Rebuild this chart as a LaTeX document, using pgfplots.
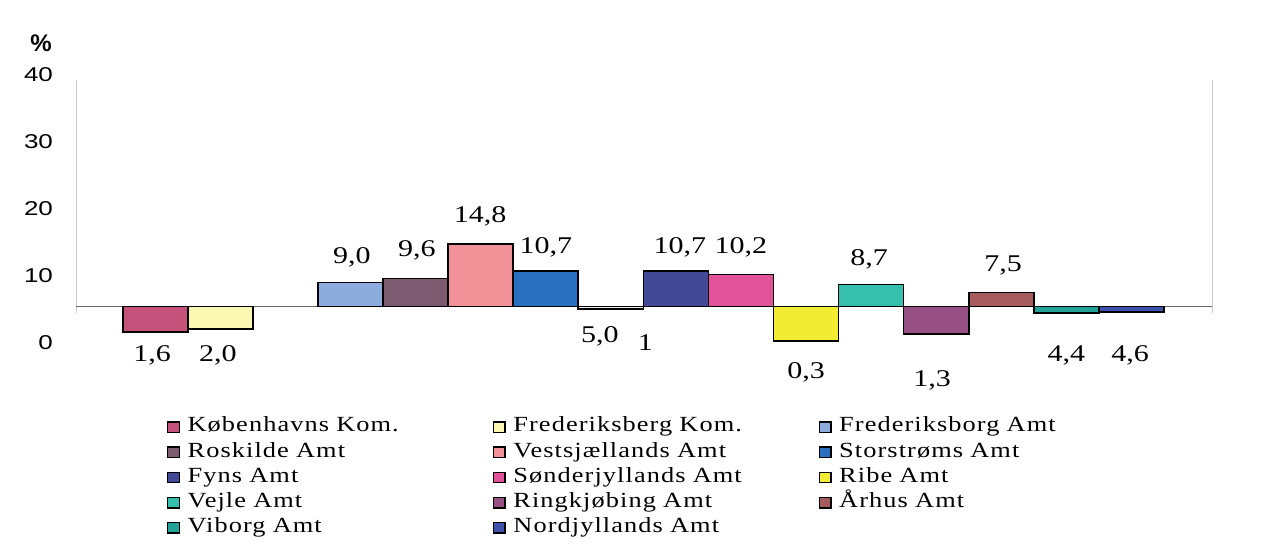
\documentclass[border=0pt]{standalone}
\usepackage{pgfplots}
\pgfplotsset{compat=1.18}
\usepackage{fontspec}
\setmainfont{Liberation Serif}[FakeStretch=1.25]
\newfontfamily\legfont{Liberation Serif}[FakeStretch=1.22, LetterSpace=5]
\newfontfamily\tickfont{Liberation Sans}[FakeStretch=1.3]
\newfontfamily\pctfont{Liberation Sans}
\definecolor{cKbhK}{RGB}{196,82,122}
\definecolor{cFrbK}{RGB}{250,247,178}
\definecolor{cFrbA}{RGB}{140,172,222}
\definecolor{cRos}{RGB}{124,90,112}
\definecolor{cVest}{RGB}{240,146,152}
\definecolor{cStor}{RGB}{42,112,192}
\definecolor{cBorn}{RGB}{238,238,238}
\definecolor{cFyn}{RGB}{66,74,152}
\definecolor{cSon}{RGB}{226,82,152}
\definecolor{cRibe}{RGB}{242,236,52}
\definecolor{cVejle}{RGB}{52,192,172}
\definecolor{cRing}{RGB}{150,80,132}
\definecolor{cAar}{RGB}{166,92,92}
\definecolor{cVib}{RGB}{34,162,152}
\definecolor{cNord}{RGB}{62,82,172}
\begin{document}
\begin{tikzpicture}
\path[use as bounding box] (0,0) rectangle (637pt,276.5pt);
\node[font=\pctfont\bfseries\fontsize{12}{14}\selectfont] at (20.5pt,255pt) {\%};
\begin{axis}[
 at={(38pt,105.15pt)}, anchor=south west,
 scale only axis, width=568pt, height=133.85pt,
 xmin=-1.22, xmax=16.24, ymin=0, ymax=40,
 axis line style={draw=none},
 xtick=\empty, ytick={0,10,20,30,40},
 major tick length=0pt,
 yticklabel style={font=\tickfont\fontsize{10}{11}\selectfont, xshift=-8pt},
 /pgf/number format/assume math mode=true,
 clip=false,
 every axis plot/.append style={draw=black, line width=0.85pt, line join=miter},
 legend columns=3,
 legend cell align=left,
 legend image code/.code={\draw[#1,draw=black,line width=0.7pt] (0.5pt,-2.7pt) rectangle (6.3pt,2.5pt);},
 legend style={draw=none, fill=none, at={(0.0745,-0.251)}, anchor=north west,
   font=\legfont\fontsize{10.8}{12}\selectfont, row sep=0pt,
   nodes={text width=147pt, inner xsep=3.8pt, inner ysep=1.3pt, text height=7.5pt, text depth=2.5pt, align=left},
   /tikz/every even column/.append style={column sep=1.8pt}},
]
\draw[gray!40, line width=0.4pt] (axis cs:-1.22,4.4) -- (axis cs:-1.22,39.3);
\draw[gray!40, line width=0.4pt] (axis cs:16.24,4.4) -- (axis cs:16.24,39.3);
\draw[black!60, line width=0.5pt] (axis cs:-1.22,5.4) -- (axis cs:16.24,5.4);
% bars: baseline 5.4
\addplot[fill=cKbhK] coordinates {(-0.5,5.4) (-0.5,1.6) (0.5,1.6) (0.5,5.4)} -- cycle;
\addlegendentry{Københavns Kom.}
\addplot[fill=cFrbK] coordinates {(0.5,5.4) (0.5,2.0) (1.5,2.0) (1.5,5.4)} -- cycle;
\addlegendentry{Frederiksberg Kom.}
\addplot[fill=cFrbA] coordinates {(2.5,5.4) (2.5,9.0) (3.5,9.0) (3.5,5.4)} -- cycle;
\addlegendentry{Frederiksborg Amt}
\addplot[fill=cRos] coordinates {(3.5,5.4) (3.5,9.6) (4.5,9.6) (4.5,5.4)} -- cycle;
\addlegendentry{Roskilde Amt}
\addplot[fill=cVest] coordinates {(4.5,5.4) (4.5,14.8) (5.5,14.8) (5.5,5.4)} -- cycle;
\addlegendentry{Vestsjællands Amt}
\addplot[fill=cStor] coordinates {(5.5,5.4) (5.5,10.7) (6.5,10.7) (6.5,5.4)} -- cycle;
\addlegendentry{Storstrøms Amt}
\addplot[forget plot, fill=cBorn] coordinates {(6.5,5.4) (6.5,5.0) (7.5,5.0) (7.5,5.4)} -- cycle;
\addplot[fill=cFyn] coordinates {(7.5,5.4) (7.5,10.7) (8.5,10.7) (8.5,5.4)} -- cycle;
\addlegendentry{Fyns Amt}
\addplot[fill=cSon] coordinates {(8.5,5.4) (8.5,10.2) (9.5,10.2) (9.5,5.4)} -- cycle;
\addlegendentry{Sønderjyllands Amt}
\addplot[fill=cRibe] coordinates {(9.5,5.4) (9.5,0.3) (10.5,0.3) (10.5,5.4)} -- cycle;
\addlegendentry{Ribe Amt}
\addplot[fill=cVejle] coordinates {(10.5,5.4) (10.5,8.7) (11.5,8.7) (11.5,5.4)} -- cycle;
\addlegendentry{Vejle Amt}
\addplot[fill=cRing] coordinates {(11.5,5.4) (11.5,1.3) (12.5,1.3) (12.5,5.4)} -- cycle;
\addlegendentry{Ringkjøbing Amt}
\addplot[fill=cAar] coordinates {(12.5,5.4) (12.5,7.5) (13.5,7.5) (13.5,5.4)} -- cycle;
\addlegendentry{Århus Amt}
\addplot[fill=cVib] coordinates {(13.5,5.4) (13.5,4.4) (14.5,4.4) (14.5,5.4)} -- cycle;
\addlegendentry{Viborg Amt}
\addplot[fill=cNord] coordinates {(14.5,5.4) (14.5,4.6) (15.5,4.6) (15.5,5.4)} -- cycle;
\addlegendentry{Nordjyllands Amt}
% value labels
\begin{scope}[every node/.style={font=\fontsize{12}{14}\selectfont}]
\node at (axis cs:-0.05,-1.95) {1,6};
\node at (axis cs:0.96,-1.95) {2,0};
\node at (axis cs:3.02,12.8) {9,0};
\node at (axis cs:4.02,13.86) {9,6};
\node at (axis cs:4.99,18.9) {14,8};
\node at (axis cs:6.0,14.2) {10,7};
\node at (axis cs:6.83,0.9) {5,0};
\node at (axis cs:7.53,0.0) {1};
\node at (axis cs:8.06,14.3) {10,7};
\node at (axis cs:9.0,14.2) {10,2};
\node at (axis cs:10.0,-4.5) {0,3};
\node at (axis cs:10.97,12.5) {8,7};
\node at (axis cs:11.94,-5.6) {1,3};
\node at (axis cs:13.03,11.6) {7,5};
\node at (axis cs:14.0,-1.95) {4,4};
\node at (axis cs:14.98,-1.95) {4,6};
\end{scope}
\end{axis}
\end{tikzpicture}
\end{document}
